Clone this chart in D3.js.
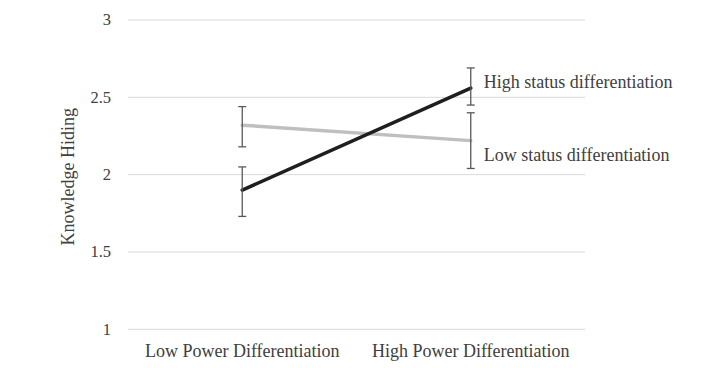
<!DOCTYPE html>
<html>
<head>
  <meta charset="utf-8"/>
  <title>Knowledge Hiding</title>
  <script src="https://d3js.org/d3.v7.min.js"></script>
  <style>
    body { margin: 0; background: #fff; }
    text { font-family: "Liberation Serif", "DejaVu Serif", serif; fill: #404040; }
  </style>
</head>
<body>
<svg></svg>
<script>

const categories = ["Low Power Differentiation", "High Power Differentiation"];
const yTicks = [1, 1.5, 2, 2.5, 3];
const seriesNames = ["High status differentiation", "Low status differentiation"];
const highStatus = [1.90, 2.56];
const highStatusUpper = [2.05, 2.69];
const highStatusLower = [1.73, 2.45];
const lowStatus = [2.32, 2.22];
const lowStatusUpper = [2.44, 2.40];
const lowStatusLower = [2.18, 2.04];

const width = 706, height = 368;
const svg = d3.select("svg")
    .attr("width", width)
    .attr("height", height);

const x = d3.scaleBand()
    .domain(categories)
    .range([128, 585]);

const y = d3.scaleLinear()
    .domain([1, 3])
    .range([329.3, 20]);

const cx = c => x(c) + x.bandwidth() / 2;

// grid
svg.selectAll(".grid")
  .data(yTicks)
  .join("line")
    .attr("class", "grid")
    .attr("x1", 128)
    .attr("x2", 585)
    .attr("y1", d => y(d))
    .attr("y2", d => y(d))
    .style("stroke", "#d9d9d9")
    .style("stroke-width", 1);

svg.selectAll(".ytick")
  .data(yTicks)
  .join("text")
    .attr("class", "ytick")
    .attr("x", 111)
    .attr("y", d => y(d))
    .attr("dy", "0.33em")
    .attr("text-anchor", "end")
    .style("font-size", "16.5px")
    .text(d => d);

svg.selectAll(".xtick")
  .data(categories)
  .join("text")
    .attr("class", "xtick")
    .attr("x", d => cx(d))
    .attr("y", 357)
    .attr("text-anchor", "middle")
    .style("font-size", "18px")
    .text(d => d);

svg.append("text")
    .attr("transform", `translate(74,${(y(1) + y(3)) / 2 + 2}) rotate(-90)`)
    .attr("text-anchor", "middle")
    .style("font-size", "18px")
    .text("Knowledge Hiding");

const series = [
  { name: seriesNames[0], values: highStatus, upper: highStatusUpper, lower: highStatusLower, color: "#1f1f1f", dy: -6 },
  { name: seriesNames[1], values: lowStatus, upper: lowStatusUpper, lower: lowStatusLower, color: "#bfbfbf", dy: 14 }
];

const line = d3.line()
    .x((d, i) => cx(categories[i]))
    .y(d => y(d));

// lines (gray under black)
[series[1], series[0]].forEach(s => {
  svg.append("path")
      .datum(s.values)
      .attr("d", line)
      .style("fill", "none")
      .style("stroke", s.color)
      .style("stroke-width", 3.5)
      .style("stroke-linecap", "round");
});

// error bars
series.forEach(s => {
  const g = svg.append("g")
      .style("stroke", "#595959")
      .style("stroke-width", 1.3);
  categories.forEach((c, i) => {
    const px = cx(c);
    g.append("line")
        .attr("x1", px).attr("x2", px)
        .attr("y1", y(s.upper[i])).attr("y2", y(s.lower[i]));
    [s.upper[i], s.lower[i]].forEach(v => {
      g.append("line")
          .attr("x1", px - 4).attr("x2", px + 4)
          .attr("y1", y(v)).attr("y2", y(v));
    });
  });
});

// series labels
series.forEach(s => {
  svg.append("text")
      .attr("x", cx(categories[1]) + 13)
      .attr("y", y(s.values[1]) + s.dy)
      .attr("dy", "0.33em")
      .style("font-size", "18px")
      .text(s.name);
});

</script>
</body>
</html>
